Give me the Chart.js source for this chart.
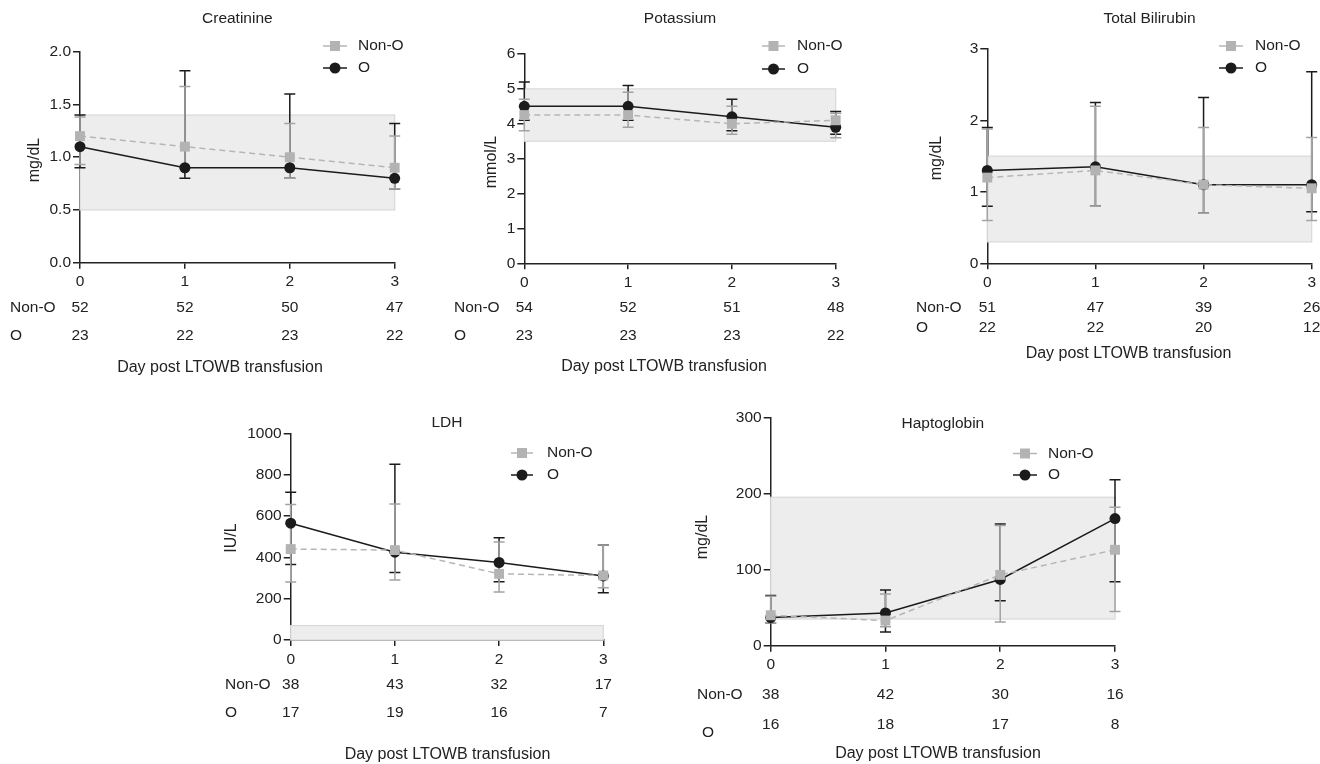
<!DOCTYPE html>
<html>
<head>
<meta charset="utf-8">
<title>Lab values after LTOWB transfusion</title>
<script src="https://cdn.jsdelivr.net/npm/chart.js@4.4.1/dist/chart.umd.min.js"></script>
<style>
  body { margin: 0; background: #fff; width: 1320px; height: 764px; position: relative; overflow: hidden; }
  canvas { position: absolute; }
</style>
</head>
<body>
<canvas id="creat"></canvas>
<canvas id="potas"></canvas>
<canvas id="bili"></canvas>
<canvas id="ldh"></canvas>
<canvas id="hapto"></canvas>
<script>
// days post transfusion (x axis)
const days = [0, 1, 2, 3];

// Creatinine (mg/dL)
const creatNonO = [1.2, 1.1, 1.0, 0.9];
const creatNonOHi = [1.38, 1.67, 1.32, 1.2];
const creatNonOLo = [0.93, 0.9, 0.8, 0.7];
const creatO = [1.1, 0.9, 0.9, 0.8];
const creatOHi = [1.4, 1.82, 1.6, 1.32];
const creatOLo = [0.9, 0.8, 0.8, 0.7];
const creatNNonO = [52, 52, 50, 47];
const creatNO = [23, 22, 23, 22];
const creatRange = [0.5, 1.4];

// Potassium (mmol/L)
const potasNonO = [4.25, 4.25, 4.0, 4.1];
const potasNonOHi = [4.7, 4.9, 4.5, 4.3];
const potasNonOLo = [3.8, 3.9, 3.7, 3.6];
const potasO = [4.5, 4.5, 4.2, 3.9];
const potasOHi = [5.2, 5.1, 4.7, 4.35];
const potasOLo = [4.1, 4.1, 3.8, 3.7];
const potasNNonO = [54, 52, 51, 48];
const potasNO = [23, 23, 23, 22];
const potasRange = [3.5, 5.0];

// Total bilirubin (mg/dL)
const biliNonO = [1.2, 1.3, 1.1, 1.05];
const biliNonOHi = [1.88, 2.2, 1.9, 1.76];
const biliNonOLo = [0.6, 0.8, 0.7, 0.6];
const biliO = [1.3, 1.35, 1.1, 1.1];
const biliOHi = [1.9, 2.25, 2.32, 2.68];
const biliOLo = [0.8, 0.8, 0.7, 0.72];
const biliNNonO = [51, 47, 39, 26];
const biliNO = [22, 22, 20, 12];
const biliRange = [0.3, 1.5];

// LDH (IU/L)
const ldhNonO = [440, 435, 320, 312];
const ldhNonOHi = [655, 658, 474, 460];
const ldhNonOLo = [281, 290, 232, 253];
const ldhO = [565, 425, 375, 310];
const ldhOHi = [715, 850, 495, 460];
const ldhOLo = [365, 326, 282, 229];
const ldhNNonO = [38, 43, 32, 17];
const ldhNO = [17, 19, 16, 7];
const ldhRange = [0, 70];

// Haptoglobin (mg/dL)
const haptoNonO = [40, 33, 93, 126];
const haptoNonOHi = [65, 68, 158, 182];
const haptoNonOLo = [30, 25, 31, 45];
const haptoO = [37, 43, 87, 167];
const haptoOHi = [66, 73, 160, 218];
const haptoOLo = [30, 18, 59, 84];
const haptoNNonO = [38, 42, 30, 16];
const haptoNO = [16, 18, 17, 8];
const haptoRange = [35, 195];

const FONT = '"Liberation Sans", Arial, Helvetica, sans-serif';
const INK = '#222';
const GREY_MARK = '#b3b3b3';
const GREY_ERR = '#a3a3a3';
const GREY_LINE = '#b6b6b6';
const BLACK = '#1b1b1b';

Chart.defaults.font.family = FONT;
Chart.defaults.color = INK;

const Y_W = 50;   // fixed y axis width
const X_H = 30;   // fixed x axis height

// layout of each panel in page pixels
const panels = [
  { id: 'creat', title: 'Creatinine', unit: 'mg/dL', yMax: 2, yStep: 0.5, dec: 1,
    nonO: creatNonO, nonOHi: creatNonOHi, nonOLo: creatNonOLo,
    o: creatO, oHi: creatOHi, oLo: creatOLo, nNonO: creatNNonO, nO: creatNO, band: creatRange,
    box: [0, 0, 445, 385], area: [80, 51.7, 394.7, 262.7],
    titleY: 19, yTitle: [35, 160], rowY: [308, 336], oLabelY: 336, labelX: 10, oLabelX: 10,
    xTitle: [220, 368], legend: [323, 347, 358, 46, 68] },
  { id: 'potas', title: 'Potassium', unit: 'mmol/L', yMax: 6, yStep: 1, dec: 0,
    nonO: potasNonO, nonOHi: potasNonOHi, nonOLo: potasNonOLo,
    o: potasO, oHi: potasOHi, oLo: potasOLo, nNonO: potasNNonO, nO: potasNO, band: potasRange,
    box: [445, 0, 435, 385], area: [524.3, 54, 835.7, 263.3],
    titleY: 19, yTitle: [492, 162], rowY: [307.5, 336], oLabelY: 336, labelX: 454, oLabelX: 454,
    xTitle: [664, 367], legend: [762, 785, 797, 46, 69] },
  { id: 'bili', title: 'Total Bilirubin', unit: 'mg/dL', yMax: 3, yStep: 1, dec: 0,
    nonO: biliNonO, nonOHi: biliNonOHi, nonOLo: biliNonOLo,
    o: biliO, oHi: biliOHi, oLo: biliOLo, nNonO: biliNNonO, nO: biliNO, band: biliRange,
    box: [880, 0, 440, 385], area: [987.3, 49, 1311.7, 263.3],
    titleY: 19, yTitle: [937, 158], rowY: [307.5, 328], oLabelY: 328, labelX: 916, oLabelX: 916,
    xTitle: [1128.5, 353.5], legend: [1219, 1243, 1255, 46, 68] },
  { id: 'ldh', title: 'LDH', unit: 'IU/L', yMax: 1000, yStep: 200, dec: 0,
    nonO: ldhNonO, nonOHi: ldhNonOHi, nonOLo: ldhNonOLo,
    o: ldhO, oHi: ldhOHi, oLo: ldhOLo, nNonO: ldhNNonO, nO: ldhNO, band: ldhRange,
    box: [200, 390, 445, 374], area: [290.7, 433.3, 603.3, 640],
    titleY: 423, yTitle: [232, 538], rowY: [685, 713], oLabelY: 713, labelX: 225, oLabelX: 225,
    xTitle: [447.5, 755], legend: [511, 533, 547, 453, 475] },
  { id: 'hapto', title: 'Haptoglobin', unit: 'mg/dL', yMax: 300, yStep: 100, dec: 0,
    nonO: haptoNonO, nonOHi: haptoNonOHi, nonOLo: haptoNonOLo,
    o: haptoO, oHi: haptoOHi, oLo: haptoOLo, nNonO: haptoNNonO, nO: haptoNO, band: haptoRange,
    box: [680, 390, 450, 374], area: [770.7, 417.3, 1115, 645.7],
    titleY: 423.5, yTitle: [703, 537], rowY: [695, 725], oLabelY: 733, labelX: 697, oLabelX: 702,
    xTitle: [938, 753.5], legend: [1013, 1037, 1048, 453.5, 475] }
];

const panelPlugin = {
  id: 'panel',
  beforeDatasetsDraw(chart, args, o) {
    const { ctx, chartArea: a, scales: { y } } = chart;
    ctx.save();
    // normal reference range band
    const top = y.getPixelForValue(o.band[1]);
    const bot = y.getPixelForValue(o.band[0]);
    ctx.fillStyle = '#ededed';
    ctx.fillRect(a.left, top, a.right - a.left, bot - top);
    ctx.strokeStyle = '#d9d9d9';
    ctx.lineWidth = 1.2;
    ctx.strokeRect(a.left, top, a.right - a.left, bot - top);
    // error bars: O underneath, Non-O on top
    [1, 0].forEach(di => {
      const ds = chart.data.datasets[di];
      const meta = chart.getDatasetMeta(di);
      ctx.strokeStyle = ds.errColor;
      ctx.lineWidth = 1.5;
      meta.data.forEach((pt, i) => {
        const hi = y.getPixelForValue(ds.hi[i]);
        const lo = y.getPixelForValue(ds.lo[i]);
        ctx.beginPath();
        ctx.moveTo(pt.x, hi); ctx.lineTo(pt.x, lo);
        ctx.moveTo(pt.x - 5.5, hi); ctx.lineTo(pt.x + 5.5, hi);
        ctx.moveTo(pt.x - 5.5, lo); ctx.lineTo(pt.x + 5.5, lo);
        ctx.stroke();
      });
    });
    ctx.restore();
  },
  afterDraw(chart, args, o) {
    const { ctx, chartArea: a, scales: { x } } = chart;
    const ox = o.box[0], oy = o.box[1];
    ctx.save();
    ctx.fillStyle = INK;
    ctx.textBaseline = 'middle';

    // title
    ctx.font = '15.5px ' + FONT;
    ctx.textAlign = 'center';
    ctx.fillText(o.title, (a.left + a.right) / 2, o.titleY - oy);

    // y axis title
    ctx.save();
    ctx.translate(o.yTitle[0] - ox, o.yTitle[1] - oy);
    ctx.rotate(-Math.PI / 2);
    ctx.font = '16px ' + FONT;
    ctx.fillText(o.unit, 0, 0);
    ctx.restore();

    // number at risk rows
    ctx.font = '15.5px ' + FONT;
    days.forEach((d, i) => {
      const px = x.getPixelForValue(d);
      ctx.fillText(String(o.nNonO[i]), px, o.rowY[0] - oy);
      ctx.fillText(String(o.nO[i]), px, o.rowY[1] - oy);
    });
    ctx.textAlign = 'left';
    ctx.fillText('Non-O', o.labelX - ox, o.rowY[0] - oy);
    ctx.fillText('O', o.oLabelX - ox, o.oLabelY - oy);

    // x axis title
    ctx.font = '16px ' + FONT;
    ctx.textAlign = 'center';
    ctx.fillText('Day post LTOWB transfusion', o.xTitle[0] - ox, o.xTitle[1] - oy);

    // legend
    const [lx0, lx1, tx, ly0, ly1] = o.legend;
    const cx = (lx0 + lx1) / 2 - ox;
    ctx.lineWidth = 1.5;
    ctx.strokeStyle = GREY_LINE;
    ctx.beginPath(); ctx.moveTo(lx0 - ox, ly0 - oy); ctx.lineTo(lx1 - ox, ly0 - oy); ctx.stroke();
    ctx.fillStyle = GREY_MARK;
    ctx.fillRect(cx - 5, ly0 - oy - 5, 10, 10);
    ctx.strokeStyle = BLACK;
    ctx.beginPath(); ctx.moveTo(lx0 - ox, ly1 - oy); ctx.lineTo(lx1 - ox, ly1 - oy); ctx.stroke();
    ctx.fillStyle = BLACK;
    ctx.beginPath(); ctx.arc(cx, ly1 - oy, 5.5, 0, Math.PI * 2); ctx.fill();
    ctx.fillStyle = INK;
    ctx.textAlign = 'left';
    ctx.font = '15.5px ' + FONT;
    ctx.fillText('Non-O', tx - ox, ly0 - oy);
    ctx.fillText('O', tx - ox, ly1 - oy);
    ctx.restore();
  }
};

function toPoints(vals) {
  return days.map((d, i) => ({ x: d, y: vals[i] }));
}

function makePanel(p) {
  const cv = document.getElementById(p.id);
  const [bx, by, bw, bh] = p.box;
  const [al, at, ar, ab] = p.area;
  cv.width = bw; cv.height = bh;
  cv.style.left = bx + 'px'; cv.style.top = by + 'px';

  const axisGrid = (len) => ({ drawOnChartArea: false, drawTicks: true, tickLength: len, color: INK, lineWidth: 1.5 });

  new Chart(cv, {
    type: 'line',
    data: {
      datasets: [
        {
          label: 'Non-O', data: toPoints(p.nonO), hi: p.nonOHi, lo: p.nonOLo, errColor: GREY_ERR,
          borderColor: GREY_LINE, borderDash: [6, 4], borderWidth: 1.5,
          pointStyle: 'rect', pointRadius: 7, pointBackgroundColor: GREY_MARK,
          pointBorderColor: GREY_MARK, pointBorderWidth: 0, clip: false, tension: 0
        },
        {
          label: 'O', data: toPoints(p.o), hi: p.oHi, lo: p.oLo, errColor: BLACK,
          borderColor: BLACK, borderWidth: 1.5,
          pointStyle: 'circle', pointRadius: 5.5, pointBackgroundColor: BLACK,
          pointBorderColor: BLACK, pointBorderWidth: 0, clip: false, tension: 0
        }
      ]
    },
    options: {
      responsive: false,
      animation: false,
      events: [],
      layout: {
        padding: {
          left: al - bx - Y_W,
          top: at - by,
          right: bx + bw - ar,
          bottom: by + bh - ab - X_H
        }
      },
      scales: {
        x: {
          type: 'linear', min: 0, max: 3,
          ticks: { stepSize: 1, padding: 4, color: INK, font: { size: 15.5 }, maxRotation: 0 },
          grid: axisGrid(6),
          border: { color: INK, width: 1.5 },
          afterFit: s => { s.height = X_H; }
        },
        y: {
          min: 0, max: p.yMax,
          ticks: { stepSize: p.yStep, padding: 2, color: INK, font: { size: 15.5 },
                   callback: v => Number(v).toFixed(p.dec) },
          grid: axisGrid(7),
          border: { color: INK, width: 1.5 },
          afterFit: s => { s.width = Y_W; }
        }
      },
      plugins: {
        legend: { display: false },
        tooltip: { enabled: false },
        panel: p
      }
    },
    plugins: [panelPlugin]
  });
}

panels.forEach(makePanel);
</script>
</body>
</html>
